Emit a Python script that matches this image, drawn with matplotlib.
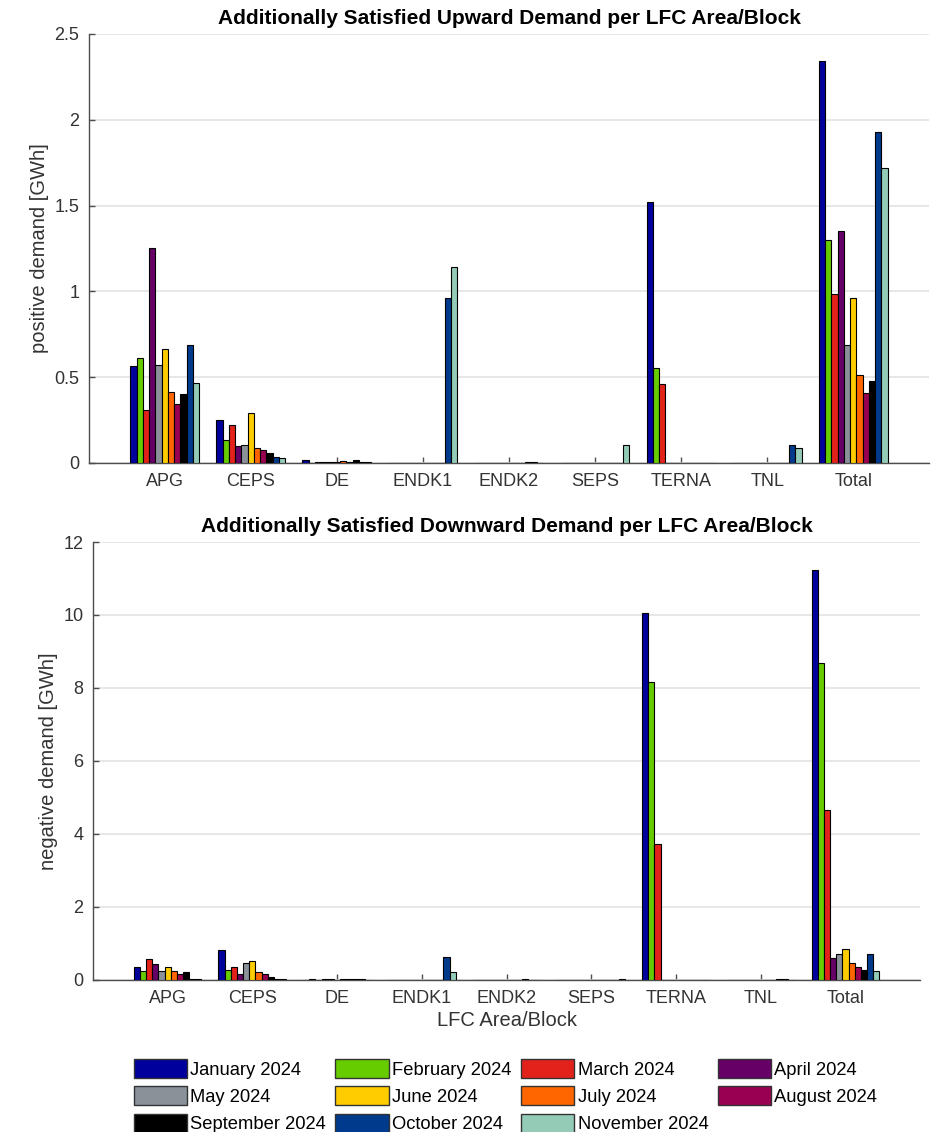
import numpy as np
import matplotlib
matplotlib.use('Agg')
import matplotlib.pyplot as plt
from matplotlib.patches import Patch

plt.rcParams['font.family'] = ['Liberation Sans', 'DejaVu Sans']

# LFC areas / blocks on the x axis
areas = ['APG', 'CEPS', 'DE', 'ENDK1', 'ENDK2', 'SEPS', 'TERNA', 'TNL', 'Total']

months = ['January 2024', 'February 2024', 'March 2024', 'April 2024', 'May 2024',
          'June 2024', 'July 2024', 'August 2024', 'September 2024',
          'October 2024', 'November 2024']

month_colors = ['#00009c', '#66cc00', '#e3231b', '#660066', '#8a9199', '#ffcc00',
                '#ff6600', '#990052', '#000000', '#003a8c', '#93cbb6']

# upward demand [GWh], one list per area, values Jan..Nov
up_apg = [0.565, 0.612, 0.307, 1.255, 0.571, 0.664, 0.414, 0.342, 0.402, 0.688, 0.466]
up_ceps = [0.249, 0.136, 0.220, 0.097, 0.105, 0.294, 0.090, 0.074, 0.061, 0.037, 0.027]
up_de = [0.015, 0.002, 0.004, 0.005, 0.005, 0.005, 0.012, 0.006, 0.020, 0.008, 0.003]
up_endk1 = [0, 0, 0, 0, 0, 0, 0, 0, 0, 0.960, 1.140]
up_endk2 = [0, 0, 0, 0, 0, 0, 0, 0, 0.003, 0.003, 0]
up_seps = [0, 0, 0, 0, 0, 0, 0, 0, 0, 0, 0.103]
up_terna = [1.519, 0.556, 0.459, 0, 0, 0, 0, 0, 0, 0, 0]
up_tnl = [0, 0, 0, 0, 0, 0, 0, 0, 0, 0.103, 0.090]
up_total = [2.341, 1.297, 0.987, 1.352, 0.686, 0.960, 0.511, 0.406, 0.476, 1.926, 1.721]

# downward demand [GWh]
dn_apg = [0.356, 0.24, 0.575, 0.43, 0.24, 0.356, 0.25, 0.17, 0.21, 0.04, 0.04]
dn_ceps = [0.83, 0.27, 0.365, 0.17, 0.466, 0.53, 0.21, 0.17, 0.08, 0.04, 0.04]
dn_de = [0, 0.03, 0, 0.03, 0.03, 0, 0.03, 0.03, 0.03, 0.03, 0]
dn_endk1 = [0, 0, 0, 0, 0, 0, 0, 0, 0, 0.62, 0.21]
dn_endk2 = [0, 0, 0, 0, 0, 0, 0, 0, 0.03, 0, 0]
dn_seps = [0, 0, 0, 0, 0, 0, 0, 0, 0, 0, 0.03]
dn_terna = [10.06, 8.17, 3.72, 0, 0, 0, 0, 0, 0, 0, 0]
dn_tnl = [0, 0, 0, 0, 0, 0, 0, 0, 0.03, 0.03, 0]
dn_total = [11.22, 8.68, 4.67, 0.60, 0.70, 0.86, 0.46, 0.36, 0.28, 0.71, 0.24]

up = np.array([up_apg, up_ceps, up_de, up_endk1, up_endk2, up_seps, up_terna, up_tnl, up_total])
dn = np.array([dn_apg, dn_ceps, dn_de, dn_endk1, dn_endk2, dn_seps, dn_terna, dn_tnl, dn_total])

fig = plt.figure(figsize=(9.36, 11.32), dpi=100)
ax1 = fig.add_axes([0.0951, 0.591, 0.8974, 0.379])
ax2 = fig.add_axes([0.0994, 0.1343, 0.8835, 0.3869])

x = np.arange(1, len(areas) + 1)
n = len(months)
w = 0.8 / n
txt = '#333333'


def draw(ax, data, yticks, ylabel, title):
    for i in range(n):
        ax.bar(x + (i - (n - 1) / 2) * w, data[:, i], width=w, color=month_colors[i],
               edgecolor='black', linewidth=0.8, zorder=3)
    ax.set_xlim(0.12, 9.88)
    ax.set_ylim(yticks[0], yticks[-1])
    ax.set_xticks(x)
    ax.set_xticklabels(areas)
    ax.set_yticks(yticks)
    ax.set_yticklabels(['%g' % t for t in yticks])
    ax.yaxis.grid(True, color='#e3e3e3', linewidth=1.2, zorder=0)
    ax.set_axisbelow(True)
    for s in ['top', 'right']:
        ax.spines[s].set_visible(False)
    for s in ['left', 'bottom']:
        ax.spines[s].set_color('#4d4d4d')
        ax.spines[s].set_linewidth(1.0)
    ax.tick_params(direction='in', length=4, width=1.0, color='#4d4d4d',
                   labelsize=13, labelcolor=txt, pad=7)
    ax.set_ylabel(ylabel, fontsize=14.5, color=txt, labelpad=4)
    ax.set_title(title, fontsize=15, fontweight='bold', pad=7)


draw(ax1, up, [0, 0.5, 1, 1.5, 2, 2.5], 'positive demand [GWh]',
     'Additionally Satisfied Upward Demand per LFC Area/Block')
draw(ax2, dn, [0, 2, 4, 6, 8, 10, 12], 'negative demand [GWh]',
     'Additionally Satisfied Downward Demand per LFC Area/Block')
ax2.set_xlabel('LFC Area/Block', fontsize=14.5, color=txt, labelpad=3)

# legend laid out row-wise like the original
order = [0, 4, 8, 1, 5, 9, 2, 6, 10, 3, 7]
handles = [Patch(facecolor=month_colors[i], edgecolor='#333333', linewidth=1.0) for i in order]
labels = [months[i] for i in order]
fig.legend(handles, labels, ncol=4, loc='upper center', bbox_to_anchor=(0.54, 1 - 1050 / 1132),
           frameon=False, fontsize=13.2, handlelength=2.9, handleheight=1.2,
           handletextpad=0.2, columnspacing=0.5, labelspacing=0.42, borderpad=0)

plt.savefig('out.png', dpi=100)
